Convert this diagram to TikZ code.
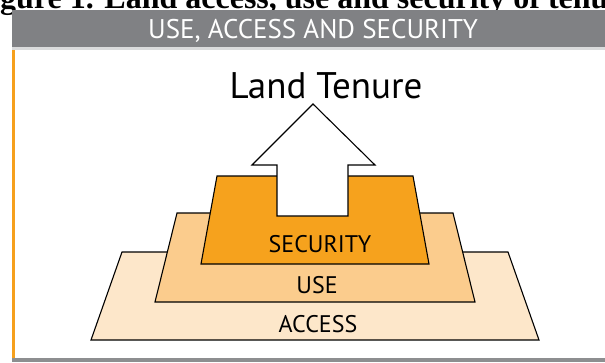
\documentclass[tikz,border=0pt]{standalone}
\usepackage{fontspec}
\setmainfont{PT Sans}
\newfontfamily\capfont{Liberation Serif}
\definecolor{hgray}{RGB}{128,129,132}
\definecolor{lgray}{RGB}{218,219,220}
\definecolor{morange}{RGB}{246,160,28}
\definecolor{secfill}{RGB}{246,162,29}
\definecolor{usefill}{RGB}{251,204,141}
\definecolor{accfill}{RGB}{253,231,202}
\tikzset{layer/.style = {draw, line width = 1.1pt, line join = miter},
  lbl/.style = {inner sep = 0, anchor = base, font = \fontsize{24}{24}\selectfont}}

\begin{document}
\begin{tikzpicture}[x=1pt, y=-1pt]
  \useasboundingbox (0,0) rectangle (605,362);
  \clip (0,0) rectangle (605,362);
  \node [anchor=base west, inner sep=0, font=\capfont\bfseries\fontsize{32}{32}\selectfont] (caption) at (0,8) {\llap{Fi}gure 1. Land access, use and security of tenure};
  \fill [hgray] (12,10) rectangle (605,47);
  \fill [lgray] (12,47) rectangle (605,50);
  \fill [morange] (12,50) rectangle (15,358);
  \fill [hgray!90] (12,358) rectangle (605,362);
  \node [white, inner sep=0, anchor=base, font=\fontsize{27}{27}\selectfont] (header) at (313,38.5) {USE, ACCESS AND SECURITY};

  \draw [layer, fill=accfill] (122,252) -- (508,252) -- (539,340) -- (91,340) -- cycle;
  \draw [layer, fill=usefill] (177,213) -- (453,213) -- (475,302) -- (155,302) -- cycle;
  \draw [layer, fill=secfill] (217,176) -- (413,176) -- (429,264) -- (201,264) -- cycle;
  \draw [layer, fill=white] (313,104) -- (375,165) -- (348,165) -- (348,216)
    -- (277,216) -- (277,165) -- (252,165) -- cycle;

  \node [lbl, font=\fontsize{37}{37}\selectfont] (tenure) at (326,98) {Land Tenure};
  \node [lbl] (security) at (320,252) {SECURITY};
  \node [lbl] (use) at (317,293) {USE};
  \node [lbl] (access) at (318,332) {ACCESS};
\end{tikzpicture}
\end{document}
